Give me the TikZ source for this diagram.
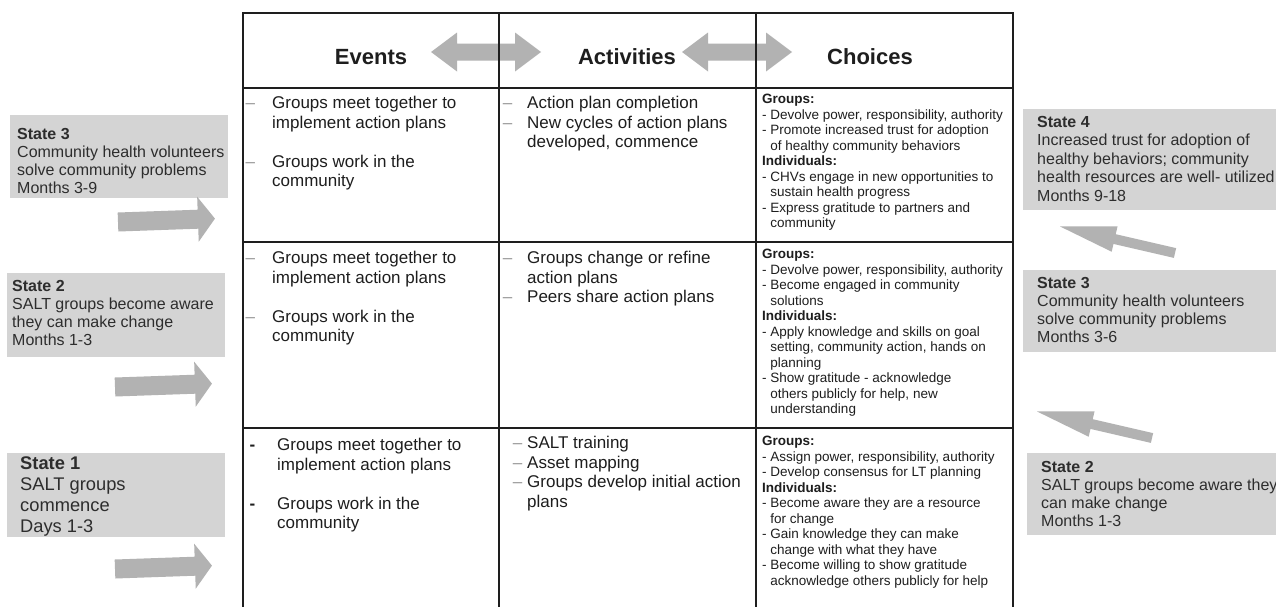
\documentclass[tikz,border=0pt]{standalone}
\usepackage{fontspec}
\setmainfont{Liberation Sans}
\usepackage{xcolor}
\usetikzlibrary{positioning,calc}
\definecolor{boxgray}{RGB}{212,212,212}
\definecolor{arrgray}{RGB}{178,178,178}
\definecolor{inkgray}{RGB}{45,45,45}
\definecolor{rulegray}{RGB}{30,30,30}
\definecolor{dashgray}{RGB}{150,150,150}
\newcommand{\ldash}[1]{\llap{\textcolor{dashgray}{\textendash}\hspace{#1pt}}}
\newcommand{\hdash}{\llap{\textbf{-}\hspace{22pt}}}
\newcommand{\ind}{\hphantom{- }}

\begin{document}
\begin{tikzpicture}[
  x=1pt, y=-1pt,
  statebox/.style={fill=boxgray, inner sep=0pt, anchor=north west},
  statetext/.style={anchor=north west, inner sep=0pt, align=left, text=inkgray, font=\fontsize{16}{18}\selectfont},
  head/.style={inner sep=0pt, text=rulegray, font=\fontsize{22}{24}\selectfont\bfseries},
  cell/.style={anchor=north west, inner sep=0pt, align=left, text=rulegray, font=\fontsize{17}{19.5}\selectfont},
  choice/.style={anchor=north west, inner sep=0pt, align=left, text=rulegray, font=\fontsize{13.5}{15.5}\selectfont},
  rule/.style={line width=2.2pt, rulegray},
  fwd/.pic={\fill[arrgray] (0,-9.5) -- (80,-9.5) -- (80,-22.5) -- (97,0) -- (80,22.5) -- (80,9.5) -- (0,9.5) -- cycle;},
  back/.pic={\fill[arrgray] (0,-5) -- (62,-5) -- (62,-13) -- (118,0) -- (62,13) -- (62,5) -- (0,5) -- cycle;},
  twoway/.pic={\fill[arrgray] (-55,0) -- (-29,-19.5) -- (-29,-8.5) -- (29,-8.5) -- (29,-19.5) -- (55,0) -- (29,19.5) -- (29,8.5) -- (-29,8.5) -- (-29,19.5) -- cycle;}
]
\useasboundingbox (0,0) rectangle (1276,606);
\clip (0,0) rectangle (1276,606);
\fill[white] (0,0) rectangle (1276,606);

% states on the left
\node[statebox, minimum width=218pt, minimum height=83pt] (lstate3) at (10,115) {};
\node[statetext] (lstate3txt) at (17,128) {\textbf{State 3}\\Community health volunteers\\solve community problems\\Months 3-9};
\node[statebox, minimum width=218pt, minimum height=84pt] (lstate2) at (7,273) {};
\node[statetext] (lstate2txt) at (12,280) {\textbf{State 2}\\SALT groups become aware\\they can make change\\Months 1-3};
\node[statebox, minimum width=218pt, minimum height=84pt] (lstate1) at (7,453) {};
\node[statetext, font=\fontsize{18.3}{20.7}\selectfont] (lstate1txt) at (20,457) {\textbf{State 1}\\SALT groups\\commence\\Days 1-3};
\pic[rotate=2] at (118,222) {fwd};
\pic[rotate=2] at (115,387) {fwd};
\pic[rotate=2] at (115,569) {fwd};

% states on the right
\node[statebox, minimum width=280pt, minimum height=101pt] (rstate4) at (1023,109) {};
\node[statetext, font=\fontsize{16}{18.5}\selectfont] (rstate4txt) at (1037,116) {\textbf{State 4}\\Increased trust for adoption of\\healthy behaviors; community\\health resources are well- utilized\\Months 9-18};
\node[statebox, minimum width=280pt, minimum height=82pt] (rstate3) at (1023,270) {};
\node[statetext] (rstate3txt) at (1037,277) {\textbf{State 3}\\Community health volunteers\\solve community problems\\Months 3-6};
\node[statebox, minimum width=280pt, minimum height=82pt] (rstate2) at (1027,453) {};
\node[statetext] (rstate2txt) at (1041,461) {\textbf{State 2}\\SALT groups become aware they\\can make change\\Months 1-3};
\pic[rotate=167] at (1175,253) {back};
\pic[rotate=167] at (1152,438) {back};

% header
\pic at (486,52) {twoway};
\pic at (737,52) {twoway};
\node[head] (events) at (371,57) {Events};
\node[head] (activities) at (627,57) {Activities};
\node[head] (choices) at (870,57) {Choices};

% grid
\draw[rule] (243,620) -- (243,13) -- (1013,13) -- (1013,620);
\draw[rule] (499,13) -- (499,620);
\draw[rule] (756,13) -- (756,620);
\draw[rule] (243,88) -- (1013,88);
\draw[rule] (243,242) -- (1013,242);
\draw[rule] (243,428) -- (1013,428);

% row 3 (top)
\node[cell] (ev3) at (272,96) {\ldash{17}Groups meet together to\\implement action plans\\[19.5pt]\ldash{17}Groups work in the\\community};
\node[cell] (ac3) at (527,96) {\ldash{15}Action plan completion\\\ldash{15}New cycles of action plans\\developed, commence};
\node[choice] (ch3) at (762,94) {\textbf{Groups:}\\- Devolve power, responsibility, authority\\- Promote increased trust for adoption\\\ind of healthy community behaviors\\\textbf{Individuals:}\\- CHVs engage in new opportunities to\\\ind sustain health progress\\- Express gratitude to partners and\\\ind community};

% row 2
\node[cell] (ev2) at (272,251) {\ldash{17}Groups meet together to\\implement action plans\\[19.5pt]\ldash{17}Groups work in the\\community};
\node[cell] (ac2) at (527,251) {\ldash{15}Groups change or refine\\action plans\\\ldash{15}Peers share action plans};
\node[choice] (ch2) at (762,249) {\textbf{Groups:}\\- Devolve power, responsibility, authority\\- Become engaged in community\\\ind solutions\\\textbf{Individuals:}\\- Apply knowledge and skills on goal\\\ind setting, community action, hands on\\\ind planning\\- Show gratitude - acknowledge\\\ind others publicly for help, new\\\ind understanding};

% row 1 (bottom)
\node[cell] (ev1) at (277,438) {\hdash Groups meet together to\\implement action plans\\[19.5pt]\hdash Groups work in the\\community};
\node[cell] (ac1) at (527,436) {\ldash{5}SALT training\\\ldash{5}Asset mapping\\\ldash{5}Groups develop initial action\\plans};
\node[choice] (ch1) at (762,436) {\textbf{Groups:}\\- Assign power, responsibility, authority\\- Develop consensus for LT planning\\\textbf{Individuals:}\\- Become aware they are a resource\\\ind for change\\- Gain knowledge they can make\\\ind change with what they have\\- Become willing to show gratitude\\\ind acknowledge others publicly for help};
\end{tikzpicture}
\end{document}
